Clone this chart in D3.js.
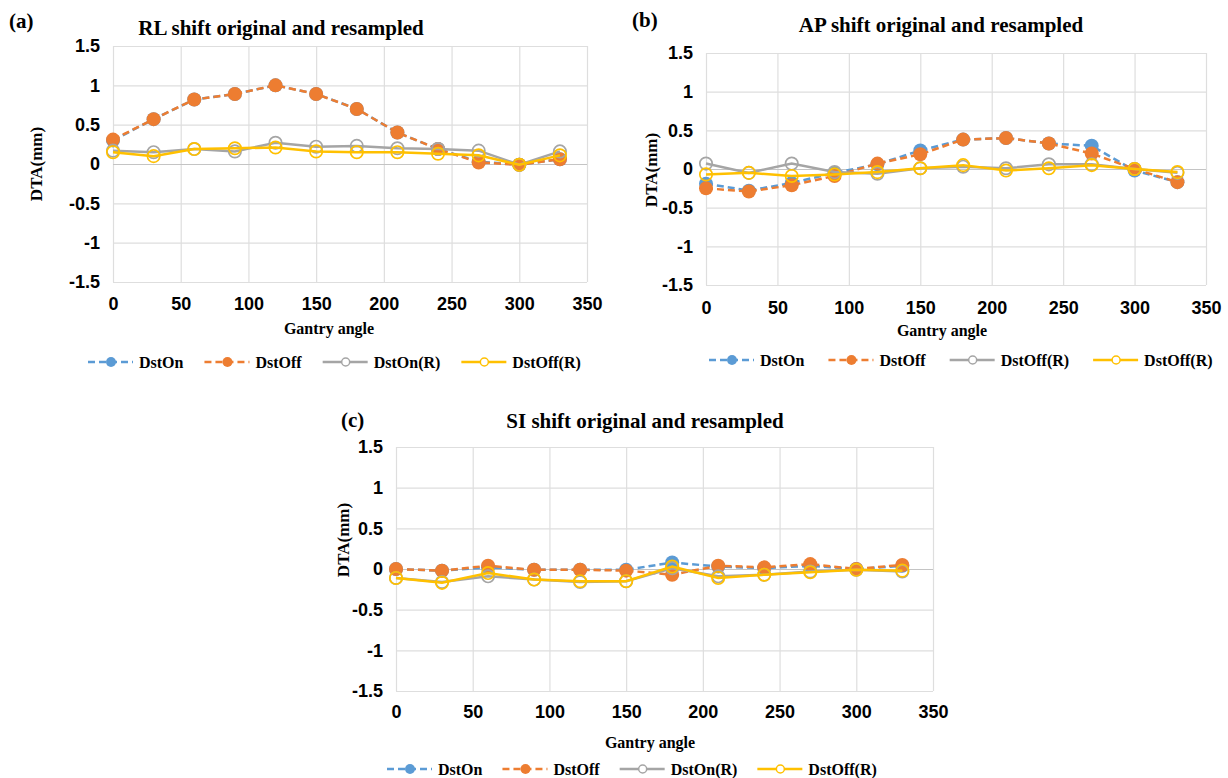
<!DOCTYPE html>
<meta charset="utf-8">
<style>
body { margin: 0; background: #fff; }
svg { font-family: "Liberation Serif", "Times New Roman", serif; font-weight: bold; }
.grid line { stroke: #dedede; stroke-width: 1.2; }
.tick text { fill: #000; font-size: 18px; }
</style>
<svg width="1228" height="778"></svg>
<script src="https://d3js.org/d3.v7.min.js"></script>
<script>

var angles = [0, 30, 60, 90, 120, 150, 180, 210, 240, 270, 300, 330];
var xTicks = [0, 50, 100, 150, 200, 250, 300, 350];
var yTicks = [1.5, 1, 0.5, 0, -0.5, -1, -1.5];

// (a) RL shift
var rlOn   = [0.30, 0.57, 0.82, 0.89, 1.00, 0.89, 0.70, 0.40, 0.19, 0.03, -0.01, 0.06];
var rlOff  = [0.31, 0.57, 0.82, 0.89, 1.00, 0.89, 0.70, 0.40, 0.19, 0.02, -0.01, 0.06];
var rlOnR  = [0.17, 0.15, 0.19, 0.16, 0.27, 0.22, 0.23, 0.20, 0.19, 0.17, -0.01, 0.16];
var rlOffR = [0.15, 0.10, 0.19, 0.20, 0.21, 0.16, 0.15, 0.15, 0.13, 0.11, -0.01, 0.11];

// (b) AP shift
var apOn   = [-0.19, -0.28, -0.18, -0.05, 0.06, 0.24, 0.38, 0.40, 0.33, 0.30, -0.02, -0.17];
var apOff  = [-0.25, -0.29, -0.21, -0.09, 0.07, 0.19, 0.38, 0.40, 0.33, 0.20, 0.00, -0.17];
var apOnR  = [0.07, -0.05, 0.07, -0.04, -0.06, 0.01, 0.03, 0.01, 0.06, 0.06, 0.00, -0.05];
var apOffR = [-0.07, -0.05, -0.09, -0.07, -0.04, 0.01, 0.05, -0.02, 0.01, 0.05, 0.00, -0.04];

// (c) SI shift
var siOn   = [0.00, -0.02, 0.02, -0.01, -0.01, -0.01, 0.08, 0.03, 0.01, 0.04, 0.00, 0.04];
var siOff  = [0.00, -0.02, 0.04, -0.01, -0.01, -0.02, -0.07, 0.04, 0.02, 0.06, 0.00, 0.05];
var siOnR  = [-0.11, -0.16, -0.09, -0.13, -0.16, -0.15, 0.01, -0.09, -0.07, -0.03, -0.01, -0.03];
var siOffR = [-0.11, -0.17, -0.05, -0.13, -0.15, -0.15, 0.03, -0.11, -0.07, -0.04, -0.01, -0.02];

var legendNames   = ["DstOn", "DstOff", "DstOn(R)", "DstOff(R)"];
var legendNamesAP = ["DstOn", "DstOff", "DstOff(R)", "DstOff(R)"];

var styles = [
  {color: "#5b9bd5", dash: "7,4", filled: true},
  {color: "#ed7d31", dash: "7,4", filled: true},
  {color: "#a5a5a5", dash: null, filled: false},
  {color: "#ffc000", dash: null, filled: false}
];

var panels = [
  {tag: "(a)", title: "RL shift original and resampled", series: [rlOn, rlOff, rlOnR, rlOffR], names: legendNames,
   x0: 113, x1: 587, y0: 46, y1: 282, tagX: 9, tagY: 28, titleX: 281, titleY: 35, xLabY: 310,
   gantryX: 329, gantryY: 334, dtaX: 36, dtaY: 164, legX: 88, legY: 362, legGap: 21},
  {tag: "(b)", title: "AP shift original and resampled", series: [apOn, apOff, apOnR, apOffR], names: legendNamesAP,
   x0: 706, x1: 1206, y0: 53, y1: 285, tagX: 632, tagY: 27, titleX: 941, titleY: 32, xLabY: 314,
   gantryX: 942, gantryY: 336, dtaX: 651, dtaY: 170, legX: 709, legY: 360, legGap: 24},
  {tag: "(c)", title: "SI shift original and resampled", series: [siOn, siOff, siOnR, siOffR], names: legendNames,
   x0: 396, x1: 933, y0: 447, y1: 691, tagX: 341, tagY: 427, titleX: 645, titleY: 428, xLabY: 718,
   gantryX: 650, gantryY: 748, dtaX: 343, dtaY: 540, legX: 387, legY: 769, legGap: 20}
];

var svg = d3.select("svg");

panels.forEach(function(p) {
  var x = d3.scaleLinear().domain([0, 350]).range([p.x0, p.x1]);
  var y = d3.scaleLinear().domain([-1.5, 1.5]).range([p.y1, p.y0]);
  var g = svg.append("g");

  // vertical grid + x labels
  var gx = g.append("g")
      .attr("class", "grid")
      .attr("transform", "translate(0," + p.y1 + ")")
      .call(d3.axisBottom(x).tickValues(xTicks).tickSize(-(p.y1 - p.y0)).tickFormat(function(d) { return String(d); }));
  gx.select(".domain").remove();
  gx.selectAll(".tick text").attr("y", p.xLabY - p.y1).attr("dy", 0);

  // horizontal grid + y labels
  var gy = g.append("g")
      .attr("class", "grid")
      .attr("transform", "translate(" + p.x0 + ",0)")
      .call(d3.axisLeft(y).tickValues(yTicks).tickSize(-(p.x1 - p.x0)).tickPadding(13).tickFormat(function(d) { return String(d); }));
  gy.select(".domain").remove();
  gy.selectAll(".tick line").filter(function(d) { return d === 0; }).style("stroke", "#c4c4c4");

  // titles
  g.append("text").attr("x", p.tagX).attr("y", p.tagY).style("font-size", "21px").text(p.tag);
  g.append("text").attr("x", p.titleX).attr("y", p.titleY).attr("text-anchor", "middle")
      .style("font-size", "21px").text(p.title);
  g.append("text").attr("x", p.gantryX).attr("y", p.gantryY).attr("text-anchor", "middle")
      .style("font-size", "16px").text("Gantry angle");
  g.append("text")
      .attr("transform", "translate(" + p.dtaX + "," + p.dtaY + ") rotate(-90)")
      .attr("text-anchor", "middle").attr("dy", "0.35em").style("font-size", "17px").text("DTA(mm)");

  var line = d3.line()
      .x(function(d, i) { return x(angles[i]); })
      .y(function(d) { return y(d); });

  p.series.forEach(function(vals, si) {
    var st = styles[si];
    g.append("path")
        .datum(vals)
        .attr("d", line)
        .attr("fill", "none")
        .attr("stroke", st.color)
        .attr("stroke-width", 2.5)
        .attr("stroke-dasharray", st.dash);
    g.selectAll(null)
        .data(vals)
        .enter()
        .append("circle")
        .attr("cx", function(d, i) { return x(angles[i]); })
        .attr("cy", function(d) { return y(d); })
        .attr("r", st.filled ? 7 : 6.2)
        .attr("fill", st.filled ? st.color : "none")
        .attr("stroke", st.color)
        .attr("stroke-width", st.filled ? 0 : 1.7);
  });

  // legend
  var lx = p.legX;
  p.names.forEach(function(name, si) {
    var st = styles[si];
    var lg = g.append("g").attr("transform", "translate(" + lx + "," + p.legY + ")");
    lg.append("line").attr("x1", 0).attr("x2", 45).attr("y1", 0).attr("y2", 0)
        .attr("stroke", st.color).attr("stroke-width", 2.5).attr("stroke-dasharray", st.dash);
    lg.append("circle").attr("cx", 23).attr("cy", 0).attr("r", st.filled ? 5 : 4)
        .attr("fill", st.filled ? st.color : "#fff").attr("stroke", st.color)
        .attr("stroke-width", st.filled ? 0 : 1.5);
    var t = lg.append("text").attr("x", 51).attr("y", 5.5).style("font-size", "16px").text(name);
    lx += 51 + t.node().getComputedTextLength() + p.legGap;
  });
});

</script>
